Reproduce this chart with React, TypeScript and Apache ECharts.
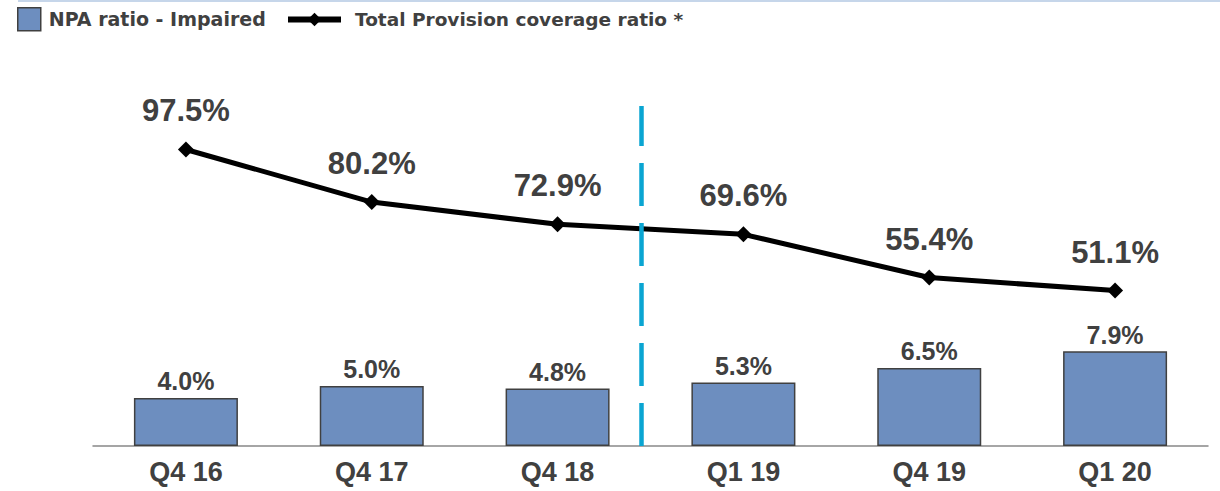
import React, { useEffect, useRef } from "react";
import * as echarts from "echarts";

const categories = ["Q4 16", "Q4 17", "Q4 18", "Q1 19", "Q4 19", "Q1 20"];
const npaRatio = [4.0, 5.0, 4.8, 5.3, 6.5, 7.9];
const coverageRatio = [97.5, 80.2, 72.9, 69.6, 55.4, 51.1];
const dividerPosition = [2.45];

export default function App() {
  const ref = useRef<HTMLDivElement>(null);
  useEffect(() => {
    document.body.style.margin = "0";
    if (!ref.current) return;
    const chart = echarts.init(ref.current, null, { renderer: "svg" });
    const textColor = "#404040";
    const labelFont = "Liberation Sans";
    chart.setOption({
      animation: false,
      graphic: [
        {
          type: "line",
          shape: { x1: 18, y1: 1, x2: 1220, y2: 1 },
          style: { stroke: "#c6d6ea", lineWidth: 2 },
        },
      ],
      legend: [
        {
          left: 12,
          top: 2,
          icon: "rect",
          itemWidth: 23,
          itemHeight: 23,
          itemStyle: { borderColor: "#404040", borderWidth: 1.5 },
          data: ["NPA ratio - Impaired"],
          textStyle: { fontFamily: "DejaVu Sans", fontWeight: "bold", fontSize: 19, color: textColor, padding: [0, 0, 0, 3] },
        },
        {
          left: 280,
          top: 5,
          itemWidth: 53,
          itemHeight: 17,
          lineStyle: { width: 6, color: "#000000" },
          data: ["Total Provision coverage ratio *"],
          textStyle: { fontFamily: "DejaVu Sans", fontWeight: "bold", fontSize: 18.5, color: textColor, padding: [0, 0, 0, 9] },
        },
      ],
      grid: { left: 93, right: 12, top: 106, bottom: 45 },
      xAxis: [
        {
          type: "category",
          data: categories,
          axisLine: { lineStyle: { color: "#888888", width: 1.5 } },
          axisTick: { show: false },
          axisLabel: {
            margin: 12,
            fontFamily: labelFont,
            fontWeight: "bold",
            fontSize: 27,
            color: textColor,
          },
        },
        { type: "value", min: -0.5, max: 5.5, show: false },
      ],
      yAxis: [
        { type: "value", min: 0, max: 28.33, show: false },
        { type: "value", min: 0, max: 111.8, show: false },
      ],
      series: [
        {
          name: "NPA ratio - Impaired",
          type: "bar",
          data: npaRatio,
          barWidth: 104,
          itemStyle: { color: "#6d8ebf", borderColor: "#404040", borderWidth: 1.5 },
          label: {
            show: true,
            position: "top",
            distance: 4,
            formatter: (p: any) => p.value.toFixed(1) + "%",
            fontFamily: labelFont,
            fontWeight: "bold",
            fontSize: 25,
            color: textColor,
          },
        },
        {
          name: "Total Provision coverage ratio *",
          type: "line",
          yAxisIndex: 1,
          data: coverageRatio,
          symbol: "diamond",
          symbolSize: 16,
          lineStyle: { color: "#000000", width: 5 },
          itemStyle: { color: "#000000" },
          label: {
            show: true,
            position: "top",
            distance: 15,
            formatter: (p: any) => p.value.toFixed(1) + "%",
            fontFamily: labelFont,
            fontWeight: "bold",
            fontSize: 31,
            color: textColor,
          },
        },
        {
          name: "divider",
          type: "line",
          xAxisIndex: 1,
          yAxisIndex: 0,
          data: [],
          markLine: {
            silent: true,
            symbol: "none",
            label: { show: false },
            lineStyle: { color: "#0aa5d2", width: 4.5, type: [43, 17] },
            data: dividerPosition.map((v) => ({ xAxis: v })),
          },
        },
      ],
    });
    return () => chart.dispose();
  }, []);
  return <div ref={ref} style={{ width: 1220, height: 491 }} />;
}
